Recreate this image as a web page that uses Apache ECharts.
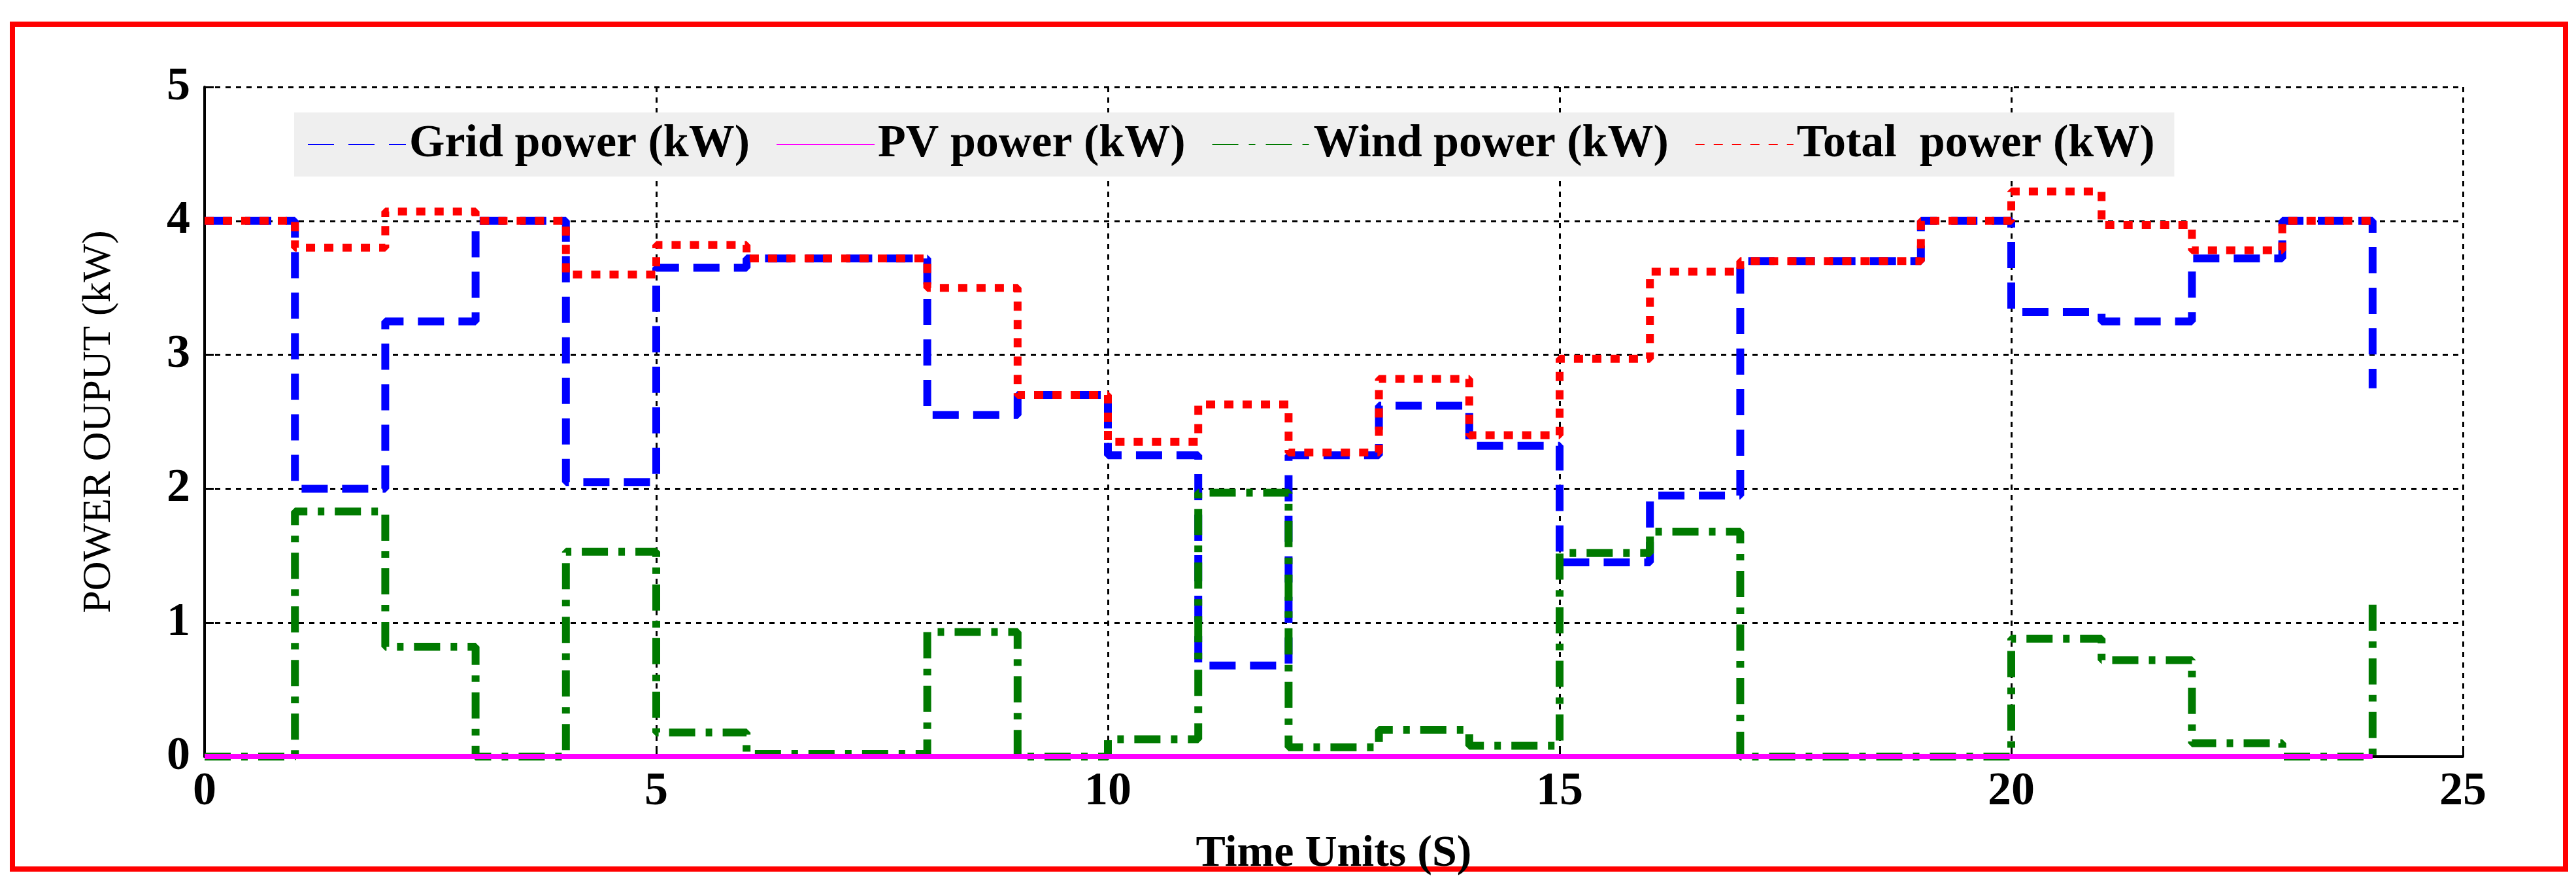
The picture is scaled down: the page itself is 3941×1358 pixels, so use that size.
<!DOCTYPE html>
<html>
<head>
<meta charset="utf-8">
<script src="https://cdn.jsdelivr.net/npm/echarts@6/dist/echarts.min.js"></script>
<style>
  html, body { margin: 0; padding: 0; background: #fff; }
  #frame { position: absolute; left: 15px; top: 33px; width: 3898px; height: 1284px; border: 8px solid #f00; }
  #chart { width: 3941px; height: 1358px; }
</style>
</head>
<body>
<div id="frame"></div>
<div id="chart"></div>
<script>
// step values, hour x holds until x+1; last point is the value at x = 24
var hours = [0,1,2,3,4,5,6,7,8,9,10,11,12,13,14,15,16,17,18,19,20,21,22,23,24];
var gridPower  = [4.0,2.0,3.25,4.0,2.05,3.65,3.72,3.72,2.55,2.7,2.25,0.68,2.25,2.62,2.32,1.45,1.95,3.7,3.7,4.0,3.32,3.25,3.72,4.0,2.75];
var pvPower    = [0,0,0,0,0,0,0,0,0,0,0,0,0,0,0,0,0,0,0,0,0,0,0,0,0];
var windPower  = [0,1.83,0.82,0,1.53,0.18,0.02,0.02,0.93,0,0.13,1.97,0.07,0.2,0.08,1.52,1.68,0,0,0,0.88,0.72,0.1,0,1.15];
var totalPower = [4.0,3.8,4.07,4.0,3.6,3.82,3.72,3.72,3.5,2.7,2.35,2.63,2.27,2.82,2.4,2.97,3.62,3.7,3.7,4.0,4.22,3.97,3.78,4.0,4.0];
var names = ['Grid power (kW)', 'PV power (kW)', 'Wind power (kW)', 'Total  power (kW)'];

function pairs(vals) {
    return hours.map(function (h, i) { return [h, vals[i]]; });
}

var chart = echarts.init(document.getElementById('chart'));
var font = 'Liberation Serif, Times New Roman, serif';

var option = {
    animation: false,
    textStyle: { fontFamily: font },
    grid: { left: 313, right: 173, top: 133, bottom: 201 },
    legend: {
        left: 450, top: 172,
        backgroundColor: '#efefef',
        padding: [14, 30, 14, 20],
        itemWidth: 150, itemHeight: 20, itemGap: 40,
        itemStyle: { opacity: 0 },
        textStyle: { fontFamily: font, fontWeight: 'bold', fontSize: 70, color: '#000' },
        data: names
    },
    xAxis: {
        type: 'value', min: 0, max: 25, interval: 5,
        name: 'Time Units (S)', nameLocation: 'middle', nameGap: 115,
        nameTextStyle: { fontFamily: font, fontWeight: 'bold', fontSize: 68, color: '#000' },
        axisLine: { lineStyle: { color: '#000', width: 4 } },
        axisTick: { inside: true, length: 14, lineStyle: { color: '#000', width: 3 } },
        axisLabel: { fontFamily: font, fontWeight: 'bold', fontSize: 72, color: '#000', margin: 18 },
        splitLine: { show: true, lineStyle: { color: '#000', width: 3, type: [8, 8] } }
    },
    yAxis: {
        type: 'value', min: 0, max: 5, interval: 1,
        name: 'POWER OUPUT (kW)', nameLocation: 'middle', nameGap: 130,
        nameTextStyle: { fontFamily: font, fontSize: 62, color: '#000' },
        axisLine: { show: true, lineStyle: { color: '#000', width: 4 } },
        axisTick: { inside: true, length: 14, lineStyle: { color: '#000', width: 3 } },
        axisLabel: { fontFamily: font, fontWeight: 'bold', fontSize: 72, color: '#000', margin: 22 },
        splitLine: { show: true, lineStyle: { color: '#000', width: 3, type: [8, 8] } }
    },
    series: [{
        name: names[0], type: 'line', step: 'end', symbol: 'none',
        data: pairs(gridPower), z: 3,
        itemStyle: { color: '#0000ff' },
        lineStyle: { color: '#0000ff', width: 12, type: [40, 22] }
    }, {
        name: names[1], type: 'line', step: 'end', symbol: 'none',
        data: pairs(pvPower), z: 5,
        itemStyle: { color: '#ff00ff' },
        lineStyle: { color: '#ff00ff', width: 8 }
    }, {
        name: names[2], type: 'line', step: 'end', symbol: 'none',
        data: pairs(windPower), z: 4,
        itemStyle: { color: '#007a00' },
        lineStyle: { color: '#007a00', width: 12, type: [40, 16, 10, 16] }
    }, {
        name: names[3], type: 'line', step: 'end', symbol: 'none',
        data: pairs(totalPower), z: 6,
        itemStyle: { color: '#ff0000' },
        lineStyle: { color: '#ff0000', width: 12, type: [14, 14] }
    }]
};

chart.setOption(option);
</script>
</body>
</html>
